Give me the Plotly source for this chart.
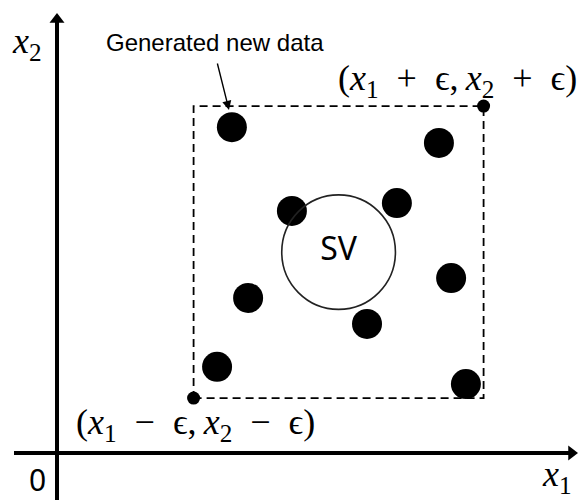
import plotly.graph_objects as go

# ---- data (units: x1, x2) ----
sv_center_x = [9.71]
sv_center_y = [6.88]
sv_radius = 1.96
epsilon = 5.0

new_x = [6.03, 13.17, 8.10, 11.72, 6.59, 13.59, 10.69, 5.52, 14.10]
new_y = [11.16, 10.62, 8.29, 8.56, 5.31, 5.99, 4.42, 2.95, 2.36]

corner_x = [sv_center_x[0] - epsilon, sv_center_x[0] + epsilon]
corner_y = [sv_center_y[0] - epsilon, sv_center_y[0] + epsilon]

# ---- pixel <-> data helpers for layout (axes frame) ----
W, H = 579, 500
OX, OY = 57, 453          # pixel position of origin
SX, SY = 29.0, 29.2       # px per unit

def dx(px):
    return (px - OX) / SX

def dy(py):
    return (OY - py) / SY

XR = [dx(0), dx(W)]
YR = [dy(H), dy(0)]

MATH_FONT = dict(family="Liberation Serif, DejaVu Serif, serif", size=36, color="black")
SANS = "Noto Sans, Liberation Sans, Arial, sans-serif"
SP = "\u2002"   # en space (math operator spacing)
TH = "\u2009"   # thin space

fig = go.Figure()

# coordinate axes (lines)
fig.add_trace(go.Scatter(x=[dx(14), dx(570)], y=[0, 0], mode="lines",
                         line=dict(color="black", width=4), hoverinfo="skip"))
fig.add_trace(go.Scatter(x=[0, 0], y=[dy(H + 5), dy(22)], mode="lines",
                         line=dict(color="black", width=4), hoverinfo="skip"))
# arrow heads
fig.add_trace(go.Scatter(x=[dx(571.5)], y=[0], mode="markers",
                         marker=dict(symbol="triangle-right", size=13, color="black"),
                         hoverinfo="skip"))
fig.add_trace(go.Scatter(x=[0], y=[dy(19.5)], mode="markers",
                         marker=dict(symbol="triangle-up", size=13, color="black"),
                         hoverinfo="skip"))

# epsilon box
fig.add_shape(type="rect", xref="x", yref="y",
              x0=corner_x[0], x1=corner_x[1], y0=corner_y[0], y1=corner_y[1],
              line=dict(color="black", width=1.8, dash="8px,5px"))

# SV circle
fig.add_shape(type="circle", xref="x", yref="y",
              x0=sv_center_x[0] - sv_radius, x1=sv_center_x[0] + sv_radius,
              y0=sv_center_y[0] - sv_radius, y1=sv_center_y[0] + sv_radius,
              line=dict(color="#222222", width=1.6), fillcolor="rgba(0,0,0,0)")

# generated points
fig.add_trace(go.Scatter(x=new_x, y=new_y, mode="markers",
                         marker=dict(size=30, color="black", line=dict(width=0)),
                         hoverinfo="skip"))
# box corners
fig.add_trace(go.Scatter(x=corner_x, y=corner_y, mode="markers",
                         marker=dict(size=13, color="black", line=dict(width=0)),
                         hoverinfo="skip"))

# SV text
fig.add_trace(go.Scatter(x=sv_center_x, y=sv_center_y, mode="text", text=["SV"],
                         textfont=dict(family=SANS, size=32, color="black"),
                         textposition="middle center", hoverinfo="skip"))

annotations = [
    dict(x=dx(10), y=dy(43), text="<i>x</i><sub>2</sub>", xanchor="left", yanchor="middle",
         showarrow=False, font=MATH_FONT),
    dict(x=dx(579), y=dy(80),
         text=f"(<i>x</i><sub>1</sub>{SP}+{SP}ϵ,{TH}<i>x</i><sub>2</sub>{SP}+{SP}ϵ)",
         xanchor="right", yanchor="middle", showarrow=False, font=MATH_FONT),
    dict(x=dx(74), y=dy(424),
         text=f"(<i>x</i><sub>1</sub>{SP}−{SP}ϵ,{TH}<i>x</i><sub>2</sub>{SP}−{SP}ϵ)",
         xanchor="left", yanchor="middle", showarrow=False, font=MATH_FONT),
    dict(x=dx(540), y=dy(476), text="<i>x</i><sub>1</sub>", xanchor="left", yanchor="middle",
         showarrow=False, font=MATH_FONT),
    dict(x=dx(37), y=dy(479), text="0", xanchor="center", yanchor="middle",
         showarrow=False, font=dict(family=SANS, size=30, color="black")),
    dict(x=dx(104), y=dy(42), text="Generated new data", xanchor="left", yanchor="middle",
         showarrow=False, font=dict(family="Liberation Sans, Arial, sans-serif", size=24, color="black")),
    dict(x=dx(229), y=dy(110), ax=dx(217), ay=dy(62), axref="x", ayref="y",
         xref="x", yref="y", text="", showarrow=True, arrowhead=2, arrowsize=1.3,
         arrowwidth=1.4, arrowcolor="black"),
]
for a in annotations:
    a.setdefault("xref", "x")
    a.setdefault("yref", "y")

fig.update_layout(
    width=W, height=H,
    margin=dict(l=0, r=0, t=0, b=0),
    paper_bgcolor="white", plot_bgcolor="white",
    showlegend=False,
    xaxis=dict(range=XR, visible=False, fixedrange=True),
    yaxis=dict(range=YR, visible=False, fixedrange=True),
    annotations=annotations,
)

fig.write_html("out.html", config={"displayModeBar": False},
               post_script="document.body.style.margin='0px';document.body.style.overflow='hidden';")
